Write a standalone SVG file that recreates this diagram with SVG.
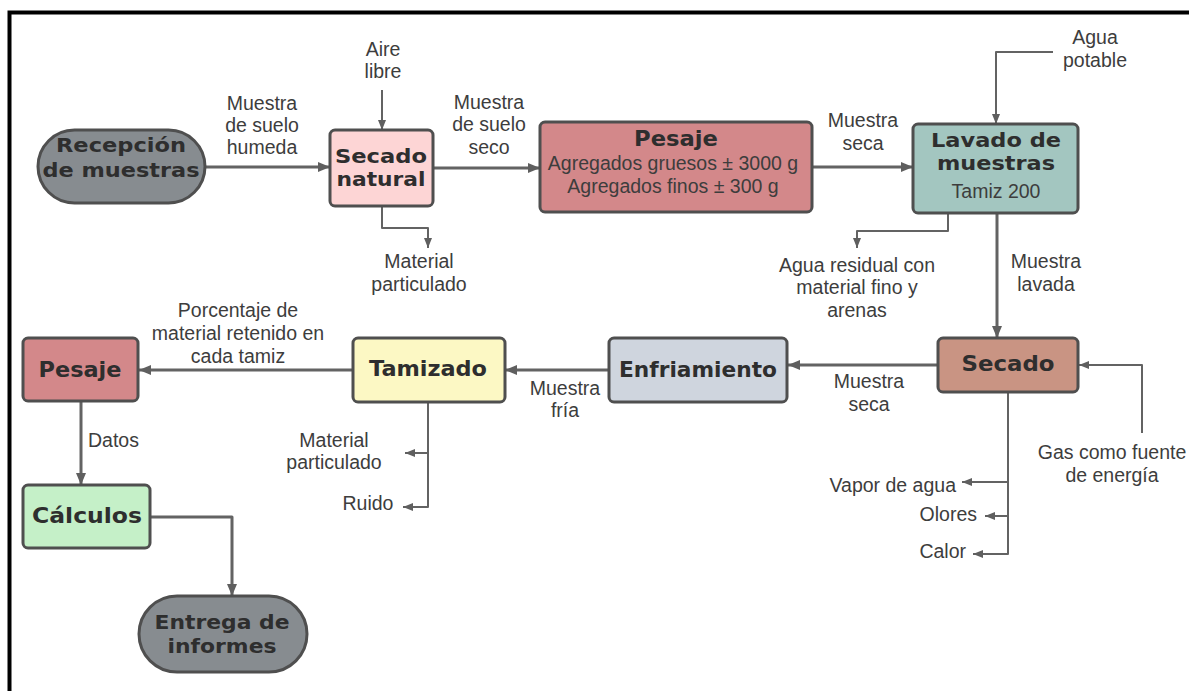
<svg xmlns="http://www.w3.org/2000/svg" width="1189" height="691" viewBox="0 0 1189 691">
<style>
.box{stroke:#4f4f4f;stroke-width:3}
.h{font-family:"DejaVu Sans",sans-serif;font-weight:bold;font-size:22px;fill:#2e2e2e;text-anchor:middle}
.h2{font-size:19px}
.t{font-family:"Liberation Sans",Arial,sans-serif;font-size:19.5px;fill:#3d3d3d;text-anchor:middle}
.r{text-anchor:end}
.l{text-anchor:start}
.m{fill:none;stroke:#636363;stroke-width:3;stroke-linejoin:round}
.s{fill:none;stroke:#636363;stroke-width:2;stroke-linejoin:round}
</style>
<defs>
<marker id="am" markerUnits="userSpaceOnUse" markerWidth="13" markerHeight="11" refX="12" refY="5" orient="auto"><path d="M0,0 L12,5 L0,10 z" fill="#5f5f5f"/></marker>
<marker id="as" markerUnits="userSpaceOnUse" markerWidth="11" markerHeight="9" refX="10" refY="4" orient="auto"><path d="M0,0 L10,4 L0,8 z" fill="#5f5f5f"/></marker>
</defs>
<rect width="1189" height="691" fill="#ffffff"/>
<path d="M8,12.5 H1189 M9.5,10.5 V691" stroke="#000" stroke-width="4" fill="none"/>

<g id="connectors">
<path class="m" d="M205,167 H330" marker-end="url(#am)"/>
<path class="s" d="M382,90 V130" marker-end="url(#as)"/>
<path class="s" d="M382,206 V228 H428 V248" marker-end="url(#as)"/>
<path class="m" d="M433,168 H540" marker-end="url(#am)"/>
<path class="m" d="M812,167 H913" marker-end="url(#am)"/>
<path class="s" d="M1053,52 H996 V124" marker-end="url(#as)"/>
<path class="s" d="M948,213 V231 H857 V248" marker-end="url(#as)"/>
<path class="m" d="M997,213 V338" marker-end="url(#am)"/>
<path class="m" d="M938,365 H788" marker-end="url(#am)"/>
<path class="s" d="M1142,433 V365 H1079" marker-end="url(#as)"/>
<path class="s" d="M1008,392 V554 H973" marker-end="url(#as)"/>
<path class="s" d="M1008,482 H962" marker-end="url(#as)"/>
<path class="s" d="M1008,516 H985" marker-end="url(#as)"/>
<path class="m" d="M609,370 H505" marker-end="url(#am)"/>
<path class="m" d="M353,370 H139" marker-end="url(#am)"/>
<path class="s" d="M428,402 V507 H403" marker-end="url(#as)"/>
<path class="s" d="M428,453 H405" marker-end="url(#as)"/>
<path class="m" d="M81,401 V485" marker-end="url(#am)"/>
<path class="m" d="M150,517 H232 V596" marker-end="url(#am)"/>
</g>

<g id="labels">
<text class="t" x="262" y="110">Muestra</text>
<text class="t" x="262" y="132">de suelo</text>
<text class="t" x="262" y="154">humeda</text>
<text class="t" x="383" y="56">Aire</text>
<text class="t" x="383" y="78">libre</text>
<text class="t" x="489" y="109">Muestra</text>
<text class="t" x="489" y="131">de suelo</text>
<text class="t" x="489" y="154">seco</text>
<text class="t" x="419" y="268">Material</text>
<text class="t" x="419" y="291">particulado</text>
<text class="t" x="863" y="127">Muestra</text>
<text class="t" x="863" y="150">seca</text>
<text class="t" x="1095" y="44">Agua</text>
<text class="t" x="1095" y="67">potable</text>
<text class="t" x="857" y="272">Agua residual con</text>
<text class="t" x="857" y="294">material fino y</text>
<text class="t" x="857" y="317">arenas</text>
<text class="t" x="1046" y="268">Muestra</text>
<text class="t" x="1046" y="291">lavada</text>
<text class="t" x="869" y="388">Muestra</text>
<text class="t" x="869" y="411">seca</text>
<text class="t" x="1112" y="459">Gas como fuente</text>
<text class="t" x="1112" y="482">de energía</text>
<text class="t r" x="956" y="492">Vapor de agua</text>
<text class="t r" x="977" y="521">Olores</text>
<text class="t r" x="966" y="558">Calor</text>
<text class="t" x="565" y="395">Muestra</text>
<text class="t" x="565" y="417">fría</text>
<text class="t" x="238" y="317">Porcentaje de</text>
<text class="t" x="238" y="340">material retenido en</text>
<text class="t" x="238" y="363">cada tamiz</text>
<text class="t l" x="88" y="447">Datos</text>
<text class="t" x="334" y="447">Material</text>
<text class="t" x="334" y="469">particulado</text>
<text class="t" x="368" y="510">Ruido</text>
</g>

<g id="recepcion">
<rect class="box" x="38" y="130" width="167" height="73" rx="36.5" fill="#878c90"/>
<text class="h h2" x="121" y="152" textLength="130" lengthAdjust="spacingAndGlyphs">Recepción</text>
<text class="h h2" x="121" y="177" textLength="157" lengthAdjust="spacingAndGlyphs">de muestras</text>
</g>
<g id="secado-natural">
<rect class="box" x="330" y="130" width="103" height="76" rx="5" fill="#fdd5d5"/>
<text class="h h2" x="381" y="163" textLength="92" lengthAdjust="spacingAndGlyphs">Secado</text>
<text class="h h2" x="381" y="186" textLength="89" lengthAdjust="spacingAndGlyphs">natural</text>
</g>
<g id="pesaje-1">
<rect class="box" x="540" y="122" width="272" height="90" rx="5" fill="#d3888a"/>
<text class="h" x="676" y="146" textLength="84" lengthAdjust="spacingAndGlyphs">Pesaje</text>
<text class="t" x="673" y="170">Agregados gruesos ± 3000 g</text>
<text class="t" x="673" y="193">Agregados finos ± 300 g</text>
</g>
<g id="lavado">
<rect class="box" x="913" y="124" width="165" height="89" rx="5" fill="#a3c6c0"/>
<text class="h h2" x="996" y="147" textLength="130" lengthAdjust="spacingAndGlyphs">Lavado de</text>
<text class="h h2" x="996" y="170" textLength="118" lengthAdjust="spacingAndGlyphs">muestras</text>
<text class="t" x="996" y="198">Tamiz 200</text>
</g>
<g id="secado">
<rect class="box" x="938" y="338" width="140" height="54" rx="5" fill="#c99483"/>
<text class="h" x="1008" y="371" textLength="93" lengthAdjust="spacingAndGlyphs">Secado</text>
</g>
<g id="enfriamiento">
<rect class="box" x="609" y="338" width="178" height="64" rx="5" fill="#cfd5de"/>
<text class="h" x="698" y="377" textLength="158" lengthAdjust="spacingAndGlyphs">Enfriamiento</text>
</g>
<g id="tamizado">
<rect class="box" x="353" y="338" width="152" height="64" rx="5" fill="#fcf8c4"/>
<text class="h" x="428" y="376" textLength="118" lengthAdjust="spacingAndGlyphs">Tamizado</text>
</g>
<g id="pesaje-2">
<rect class="box" x="23" y="338" width="115" height="63" rx="5" fill="#d3888a"/>
<text class="h" x="80" y="377" textLength="83" lengthAdjust="spacingAndGlyphs">Pesaje</text>
</g>
<g id="calculos">
<rect class="box" x="23" y="485" width="127" height="63" rx="5" fill="#c5f0c8"/>
<text class="h" x="87" y="523" textLength="110" lengthAdjust="spacingAndGlyphs">Cálculos</text>
</g>
<g id="entrega">
<rect class="box" x="139" y="596" width="168" height="76" rx="38" fill="#878c90"/>
<text class="h h2" x="222" y="629" textLength="135" lengthAdjust="spacingAndGlyphs">Entrega de</text>
<text class="h h2" x="222" y="653" textLength="109" lengthAdjust="spacingAndGlyphs">informes</text>
</g>
</svg>
